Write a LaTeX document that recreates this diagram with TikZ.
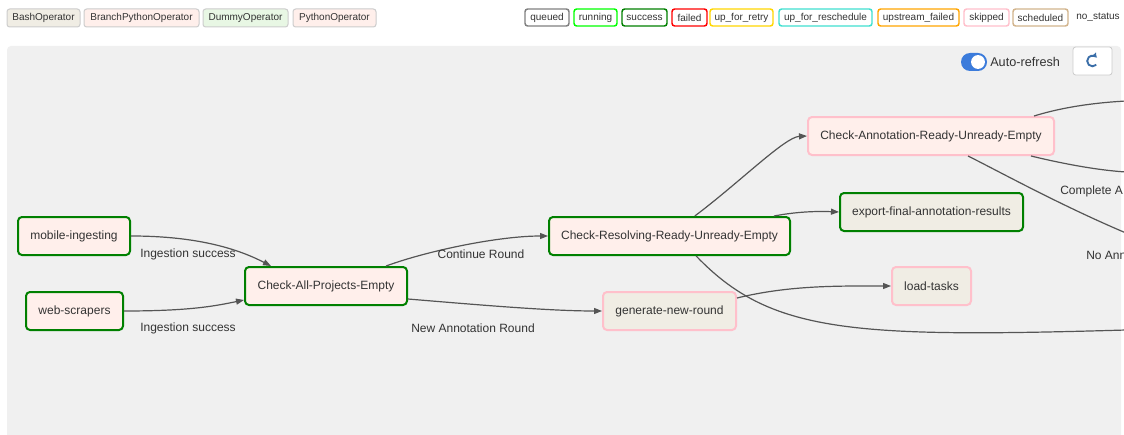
\documentclass[tikz,border=0pt]{standalone}
\usepackage{fontspec}
\setmainfont{Liberation Sans}
\usetikzlibrary{arrows.meta}

% palette
\definecolor{panel}{HTML}{F0F0F0}
\definecolor{txt}{HTML}{333333}
\definecolor{edgec}{HTML}{555555}
\definecolor{legbd}{HTML}{CCCCCC}
\definecolor{bashfill}{HTML}{F0EDE4}
\definecolor{pyfill}{HTML}{FFEFEB}
\definecolor{dummyfill}{HTML}{E8F7E4}
\definecolor{stqueued}{HTML}{808080}
\definecolor{strunning}{HTML}{00FF00}
\definecolor{stsuccess}{HTML}{008000}
\definecolor{stfailed}{HTML}{FF0000}
\definecolor{stretry}{HTML}{FFD700}
\definecolor{stresched}{HTML}{40E0D0}
\definecolor{stupfail}{HTML}{FFA500}
\definecolor{stskipped}{HTML}{FFC0CB}
\definecolor{stsched}{HTML}{D2B48C}
\definecolor{togglec}{HTML}{3B7BDB}
\definecolor{iconc}{HTML}{3A6EA8}

\tikzset{
  task/.style={draw, rounded corners=3pt, line width=1.5pt, minimum height=28.5pt,
    inner sep=0pt, text=txt, font=\fontsize{9}{11}\selectfont},
  stok/.style={draw=stsuccess},
  stskip/.style={draw=stskipped},
  pyop/.style={fill=pyfill},
  bashop/.style={fill=bashfill},
  edge/.style={draw=edgec, line width=0.9pt, -{Triangle[length=6pt,width=4.5pt]}},
  tail/.style={draw=edgec, line width=0.9pt},
  lbl/.style={inner sep=0pt, text=txt, font=\fontsize{9}{11}\selectfont},
  opkey/.style={draw=legbd, line width=0.75pt, rounded corners=2pt, minimum height=13.5pt,
    inner sep=0pt, text=txt, font=\fontsize{7.5}{9}\selectfont},
  stkey/.style={fill=white, line width=1.1pt, rounded corners=2pt, minimum height=12.75pt,
    inner sep=0pt, text=txt, font=\fontsize{7.5}{9}\selectfont},
}

\begin{document}
\begin{tikzpicture}[x=0.75pt, y=-0.75pt]
\useasboundingbox (0,0) rectangle (1124,435);
\fill[white] (0,0) rectangle (1124,435);
\clip (0,0) rectangle (1124,435);

% operator legend
\node[opkey, fill=bashfill, minimum width=54.75pt] (kbash) at (43.5,18) {BashOperator};
\node[opkey, fill=pyfill, minimum width=86.25pt] (kbranch) at (141.5,18) {BranchPythonOperator};
\node[opkey, fill=dummyfill, minimum width=63.75pt] (kdummy) at (245.5,18) {DummyOperator};
\node[opkey, fill=pyfill, minimum width=62.25pt] (kpython) at (334.5,18) {PythonOperator};

% state legend
\node[stkey, draw=stqueued, minimum width=33pt] (squeued) at (547,17.5) {queued};
\node[stkey, draw=strunning, minimum width=32.25pt] (srunning) at (595.5,17.5) {running};
\node[stkey, draw=stsuccess, minimum width=33.75pt] (ssuccess) at (644.5,17.5) {success};
\node[stkey, draw=stfailed, minimum width=26.25pt] (sfailed) at (689.5,17.5) {failed};
\node[stkey, draw=stretry, minimum width=47.25pt] (sretry) at (741.5,17.5) {up\_for\_retry};
\node[stkey, draw=stresched, minimum width=69.75pt] (sresched) at (825.5,17.5) {up\_for\_reschedule};
\node[stkey, draw=stupfail, minimum width=60.75pt] (supfail) at (918.5,17.5) {upstream\_failed};
\node[stkey, draw=stskipped, minimum width=33.75pt] (sskipped) at (986.5,17.5) {skipped};
\node[stkey, draw=stsched, minimum width=41.25pt] (ssched) at (1040.5,17.5) {scheduled};
\node[inner sep=0pt, text=txt, font=\fontsize{7.5}{9}\selectfont] (snone) at (1098,17.5) {no\_status};

% graph panel
\fill[panel, rounded corners=3pt] (7,46) rectangle (1121,445);

% auto-refresh toggle and refresh button
\fill[togglec, rounded corners=6.75pt] (961,53) rectangle (987,71);
\fill[white] (978,62) circle[radius=5.2pt];
\node[anchor=west, inner sep=0pt, text=txt, font=\fontsize{9.5}{11}\selectfont] (autoref) at (990,62) {Auto-refresh};
\node[draw=legbd, fill=white, rounded corners=2pt, line width=0.6pt,
  minimum width=29.25pt, minimum height=21pt, inner sep=0pt] (refresh) at (1092.5,61) {};
\draw[iconc, line width=1.4pt, -{Triangle[length=3pt,width=4.2pt]}]
  ([shift={(-45:4pt)}]refresh.center) arc[start angle=-45, end angle=-318, radius=4pt];

% tasks
\node[task, pyop, stok, minimum width=84pt] (mob) at (74,236) {mobile-ingesting};
\node[task, pyop, stok, minimum width=72.75pt] (web) at (74.5,311) {web-scrapers};
\node[task, pyop, stok, minimum width=121.5pt] (cape) at (326,286) {Check-All-Projects-Empty};
\node[task, pyop, stok, minimum width=180.75pt] (crrue) at (669.5,236) {Check-Resolving-Ready-Unready-Empty};
\node[task, bashop, stskip, minimum width=99.75pt] (gnr) at (669.5,311) {generate-new-round};
\node[task, bashop, stskip, minimum width=59.25pt] (lt) at (931.5,286) {load-tasks};
\node[task, pyop, stskip, minimum width=184.5pt] (carue) at (931,136) {Check-Annotation-Ready-Unready-Empty};
\node[task, bashop, stok, minimum width=137.25pt] (efar) at (931.5,212) {export-final-annotation-results};

% loose ends leaving the panel
\coordinate (outA) at (1126,101);
\coordinate (outB) at (1126,172);
\coordinate (outC) at (1126,233);
\coordinate (outD) at (1126,330);

% connectors
\draw[edge] (mob.east) .. controls (200,236) and (240,250) .. ([xshift=20.25pt]cape.north west);
\draw[edge] (web.east) .. controls (190,311) and (215,306) .. ([yshift=-10.5pt]cape.west);
\draw[edge] ([xshift=-16.5pt]cape.north east) .. controls (430,250) and (500,236) .. (crrue.west);
\draw[edge] ([yshift=-9.75pt]cape.east) .. controls (480,305) and (550,311) .. (gnr.west);
\draw[edge] ([xshift=19pt]crrue.north) .. controls (740,182) and (785,137) .. (carue.west);
\draw[edge] ([xshift=-12.75pt]crrue.north east) .. controls (795,212) and (815,211) .. (efar.west);
\draw[tail] ([xshift=20pt]crrue.south) .. controls (770,333) and (850,338) .. (outD);
\draw[edge] ([yshift=9.75pt]gnr.east) .. controls (790,285) and (840,286) .. (lt.west);
\draw[tail] ([xshift=-15.75pt]carue.north east) .. controls (1060,108) and (1090,103) .. (outA);
\draw[tail] ([xshift=-18pt]carue.south east) .. controls (1060,163) and (1095,170) .. (outB);
\draw[tail] ([xshift=27.75pt]carue.south) .. controls (1000,172) and (1060,205) .. (outC);

% edge labels
\node[lbl] (l1) at (188,254) {Ingestion success};
\node[lbl] (l2) at (188,328) {Ingestion success};
\node[lbl] (l3) at (481,254) {Continue Round};
\node[lbl] (l4) at (473,328) {New Annotation Round};
\node[lbl, anchor=west] (l5) at (1060,191) {Complete A};
\node[lbl, anchor=west] (l6) at (1086,255) {No Ann};
\end{tikzpicture}
\end{document}
